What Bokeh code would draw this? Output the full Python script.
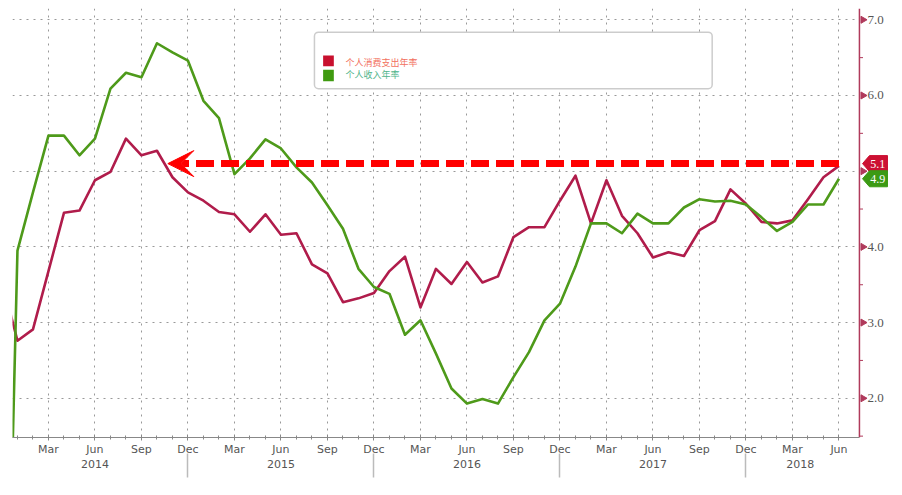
import math
import pandas as pd
from bokeh.plotting import figure
from bokeh.models import (Range1d, LinearAxis, FixedTicker, Label, BoxAnnotation,
                          Arrow, VeeHead, Span)
from bokeh.embed import file_html
from bokeh.resources import INLINE

# ---------------- data ----------------
start_month = "2013-12"
pce_yoy = [3.56,
           2.76, 2.91, 3.68, 4.45, 4.48, 4.88, 4.99, 5.43, 5.21, 5.27, 4.92, 4.72,
           4.61, 4.46, 4.43, 4.20, 4.43, 4.16, 4.18, 3.77, 3.65, 3.27, 3.32, 3.39,
           3.68, 3.87, 3.20, 3.71, 3.51, 3.80, 3.53, 3.61, 4.13, 4.26, 4.26, 4.61,
           4.94, 4.31, 4.88, 4.41, 4.18, 3.86, 3.93, 3.88, 4.22, 4.34, 4.76, 4.57,
           4.33, 4.31, 4.35, 4.63, 4.92, 5.07]
income_yoy = [-4.4,
              3.95, 4.72, 5.47, 5.47, 5.21, 5.43, 6.09, 6.30, 6.24, 6.69, 6.57, 6.46,
              5.93, 5.70, 4.96, 5.17, 5.42, 5.30, 5.05, 4.85, 4.55, 4.24, 3.71, 3.47,
              3.38, 2.84, 3.03, 2.59, 2.13, 1.93, 1.99, 1.93, 2.28, 2.61, 3.03, 3.25,
              3.74, 4.31, 4.31, 4.18, 4.44, 4.31, 4.31, 4.52, 4.63, 4.60, 4.61, 4.56,
              4.39, 4.21, 4.33, 4.56, 4.56, 4.90]
series_names = ["个人消费支出年率", "个人收入年率"]
latest_labels = ["5.1", "4.9"]
arrow_level = 5.1
month_abbr = ["Jan", "Feb", "Mar", "Apr", "May", "Jun",
              "Jul", "Aug", "Sep", "Oct", "Nov", "Dec"]
labelled_months = [3, 6, 9, 12]
y_ticks = [2.0, 3.0, 4.0, 5.0, 6.0, 7.0]
y_tick_labels = ["2.0", "3.0", "4.0", "5.0", "6.0", "7.0"]
y_minor = [1.5, 2.5, 3.5, 4.5, 5.5, 6.5]

# ---------------- derived ----------------
periods = pd.period_range(start_month, periods=len(pce_yoy), freq="M")
base_year = periods[1].year
xs = [(p.year - base_year) * 12 + (p.month - 1) for p in periods]

major_x = [x for x, p in zip(xs, periods) if p.month in labelled_months]
overrides = {x: month_abbr[p.month - 1] for x, p in zip(xs, periods) if p.month in labelled_months}
dec_x = [x for x, p in zip(xs, periods) if p.month == 12 and x >= 0]

year_pos, year_lab = [], {}
for yr in sorted(set(p.year for p in periods[1:])):
    idx = [x for x, p in zip(xs, periods) if p.year == yr]
    pos = (yr - base_year) * 12 + 5 if len(idx) == 12 else sum(idx) / len(idx)
    year_pos.append(pos)
    year_lab[pos] = str(yr)

RED = "#b01c4b"
GREEN = "#4e9a1a"
AXIS_RED = "#b03a5b"
FONT = "DejaVu Sans"
NUMFONT = "Liberation Sans"
CJK = "Noto Sans CJK SC"

W, H = 900, 493
BL, BR, BT, BB = 12, 2, 8, 56
X0, X1 = -0.32, 56.84
Y0, Y1 = 1.482, 7.149

# right value axis drawn inside the frame (positions in month units)
AX = 54.32         # axis line
TRI = 54.55        # tick marker centre
LBL = 54.84        # tick label start
TAG_PT, TAG_L, TAG_R = 54.52, 54.97, 56.13
TAG_H = 0.106      # half height of a tag in value units

p = figure(width=W, height=H, output_backend="svg", toolbar_location=None,
           x_range=Range1d(X0, X1), y_range=Range1d(Y0, Y1),
           y_axis_location=None, min_border_left=BL, min_border_right=BR,
           min_border_top=BT, min_border_bottom=BB)
p.outline_line_color = None
p.background_fill_color = "white"

# bottom month axis
xa = p.xaxis[0]
xa.ticker = FixedTicker(ticks=major_x, minor_ticks=[x for x in xs if x >= 0])
xa.bounds = (X0, AX)
xa.major_label_overrides = overrides
xa.axis_line_color = "#888888"
xa.major_tick_line_color = "#888888"
xa.minor_tick_line_color = "#888888"
xa.major_tick_in = 3
xa.major_tick_out = 3
xa.minor_tick_in = 2
xa.minor_tick_out = 2
xa.major_label_text_color = "#555555"
xa.major_label_text_font = FONT
xa.major_label_text_font_size = "11px"
xa.major_label_standoff = 2

# year axis
yr_axis = LinearAxis(ticker=FixedTicker(ticks=year_pos, minor_ticks=[]),
                     major_label_overrides=year_lab)
yr_axis.axis_line_color = None
yr_axis.major_tick_line_color = None
yr_axis.minor_tick_line_color = None
yr_axis.major_tick_out = 0
yr_axis.major_tick_in = 0
yr_axis.minor_tick_out = 0
yr_axis.minor_tick_in = 0
yr_axis.major_label_standoff = 1
yr_axis.major_label_text_color = "#555555"
yr_axis.major_label_text_font = FONT
yr_axis.major_label_text_font_size = "11px"
p.add_layout(yr_axis, "below")

# year separators
sep_axis = LinearAxis(ticker=FixedTicker(ticks=[], minor_ticks=dec_x))
sep_axis.axis_line_color = None
sep_axis.major_tick_line_color = None
sep_axis.minor_tick_line_color = "#bbbbbb"
sep_axis.minor_tick_line_width = 1.5
sep_axis.minor_tick_in = 17
sep_axis.minor_tick_out = 7
sep_axis.major_tick_in = 0
sep_axis.major_tick_out = 0
sep_axis.major_label_standoff = 0
sep_axis.major_label_text_font_size = "0px"
p.add_layout(sep_axis, "below")

# grids
p.xgrid.ticker = FixedTicker(ticks=major_x)
p.ygrid.ticker = FixedTicker(ticks=y_ticks)
for g in (p.xgrid, p.ygrid):
    g.grid_line_color = "#999999"
    g.grid_line_dash = "2 5"
    g.grid_line_width = 1

# white mask right of the value axis (hides grid there)
p.add_layout(BoxAnnotation(left=AX, fill_color="white", fill_alpha=1,
                           line_color=None, level="underlay"))

# value axis: line, ticks, labels
p.add_layout(Span(location=AX, dimension="height", line_color=AXIS_RED, line_width=1.5,
                  level="underlay"))
p.scatter(x=[TRI] * len(y_ticks), y=y_ticks, marker="triangle", size=7,
          angle=-math.pi / 2, fill_color=AXIS_RED, line_color=AXIS_RED)
p.segment(x0=[AX] * len(y_minor), y0=y_minor, x1=[TRI] * len(y_minor), y1=y_minor,
          line_color=AXIS_RED, line_width=1)
p.text(x=[LBL] * len(y_ticks), y=y_ticks, text=y_tick_labels, text_color="#555555",
       text_font=NUMFONT, text_font_size="13px", text_baseline="middle",
       text_align="left")

# lines
p.line(xs, pce_yoy, line_color=RED, line_width=2.6, line_join="round")
p.line(xs, income_yoy, line_color=GREEN, line_width=2.6, line_join="round")

# dashed arrow
p.add_layout(Arrow(end=VeeHead(size=26, fill_color="#ff0000", line_color="#ff0000",
                               line_width=1),
                   x_start=xs[-1], y_start=arrow_level, x_end=9.7, y_end=arrow_level,
                   line_color="#ff0000", line_width=7, line_dash="18 7"))

# latest value tags
tag_colors = ["#cc1133", "#3c9a14"]
tag_y = [float(t) for t in latest_labels]
p.patches(xs=[[TAG_PT, TAG_L, TAG_R, TAG_R, TAG_L] for _ in tag_y],
          ys=[[v, v + TAG_H, v + TAG_H, v - TAG_H, v - TAG_H] for v in tag_y],
          fill_color=tag_colors, line_color=tag_colors, line_width=1)
p.text(x=[(TAG_L + TAG_R) / 2 - 0.05] * len(tag_y), y=tag_y, text=latest_labels,
       text_color="white", text_font=NUMFONT, text_font_size="12px",
       text_align="center", text_baseline="middle")

# legend box
p.add_layout(BoxAnnotation(left=19.16, right=44.82, top=6.836, bottom=6.089,
                           fill_color="white", fill_alpha=1, line_color="#555555",
                           line_width=1.5, border_radius=4, level="annotation"))
swatch_y = [(6.528, 6.387), (6.339, 6.189)]
text_y = [6.44, 6.277]
swatch_colors = ["#c8102e", "#3f9a10"]
text_colors = ["#f2705e", "#4fb48a"]
for name, (t, b), ty, sc, tc in zip(series_names, swatch_y, text_y, swatch_colors, text_colors):
    p.add_layout(BoxAnnotation(left=19.72, right=20.41, top=t, bottom=b,
                               fill_color=sc, fill_alpha=1, line_color=None))
    p.add_layout(Label(x=21.16, y=ty, text=name, text_color=tc, text_font=CJK,
                       text_font_size="9px", text_baseline="middle"))

open("out.html", "w").write(file_html(p, INLINE))
